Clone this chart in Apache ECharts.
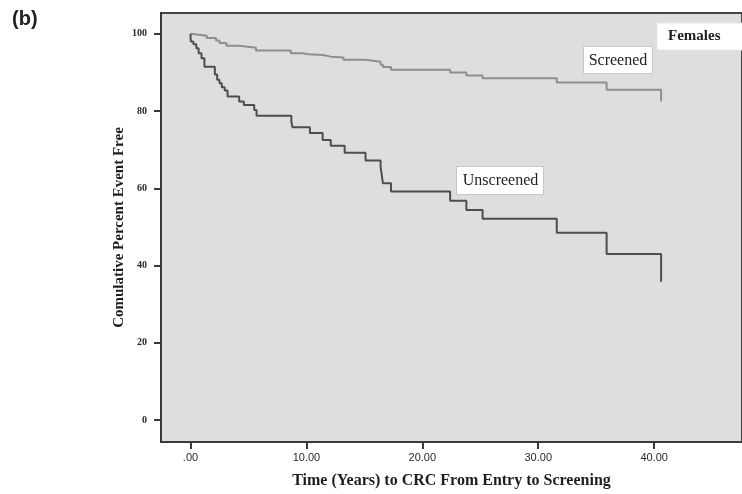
<!DOCTYPE html>
<html>
<head>
<meta charset="utf-8">
<script src="https://cdn.jsdelivr.net/npm/echarts@6/dist/echarts.min.js"></script>
<style>
  html, body { margin: 0; padding: 0; background: #fff; }
  #chartKM { width: 742px; height: 494px; }
</style>
</head>
<body>
<div id="chartKM"></div>
<script>
// Kaplan-Meier style steps, [years, percent event free]
const screened = [
  [0, 100], [0.1, 99.5], [1.4, 98.9], [2.2, 98.3], [2.5, 97.6], [3.1, 96.9],
  [4.2, 96.4], [5.65, 95.7], [8.65, 95.0], [9.65, 94.7], [10.2, 94.5],
  [11.4, 94.1], [12.1, 93.9], [13.2, 93.3], [15.1, 92.8], [16.4, 92.0],
  [16.6, 91.4], [17.3, 90.7], [22.4, 90.0], [23.8, 89.2], [25.2, 88.5],
  [31.6, 87.4], [35.9, 85.5], [40.6, 82.5]
]
const unscreened = [
  [0, 100], [0.02, 98.0], [0.25, 97.3], [0.5, 96.3], [0.7, 95.0], [0.95, 93.7],
  [1.2, 91.5], [2.1, 89.5], [2.3, 88.1], [2.5, 87.2], [2.7, 86.2],
  [2.95, 85.3], [3.2, 83.8], [4.2, 82.5], [4.6, 81.6], [5.5, 80.3],
  [5.7, 78.8], [8.7, 77.3], [8.8, 75.8], [10.3, 74.3], [11.4, 72.5],
  [12.1, 71.0], [13.3, 69.2], [15.1, 67.2], [16.4, 65.5], [16.5, 63.5],
  [16.6, 61.3], [17.3, 59.2], [22.4, 56.8], [23.8, 54.4], [25.2, 52.1],
  [31.6, 48.5], [35.9, 43.0], [40.6, 35.8]
]
const xTicks = [0, 10, 20, 30, 40]
const yTicks = [0, 20, 40, 60, 80, 100]

const serif = '"Liberation Serif", "Times New Roman", serif'
const sans = '"Liberation Sans", Arial, sans-serif'

const myChart = echarts.init(document.getElementById('chartKM'))
const option = {
  animation: false,
  grid: {
    left: 161,
    top: 13,
    right: -4,
    bottom: 52,
    show: true,
    backgroundColor: '#dddee0',
    borderColor: '#444',
    borderWidth: 2
  },
  xAxis: {
    type: 'value',
    min: -2.545,
    max: 47.58,
    name: 'Time (Years) to CRC From Entry to Screening',
    nameLocation: 'middle',
    nameGap: 31,
    nameMoveOverlap: false,
    nameTextStyle: { fontFamily: serif, fontWeight: 'bold', fontSize: 16, color: '#1e1e1e' },
    axisLine: { show: true, onZero: false, lineStyle: { color: '#3a3a3a', width: 2 } },
    axisTick: { show: true, customValues: xTicks, length: 7, lineStyle: { color: '#3a3a3a', width: 2 } },
    axisLabel: {
      customValues: xTicks,
      margin: 10,
      fontFamily: sans,
      fontSize: 11,
      color: '#2a2a2a',
      formatter: v => (v === 0 ? '.00' : v.toFixed(2))
    },
    splitLine: { show: false }
  },
  yAxis: {
    type: 'value',
    min: -5.7,
    max: 105.4,
    name: 'Comulative Percent Event Free',
    nameLocation: 'middle',
    nameGap: 34,
    nameMoveOverlap: false,
    nameTextStyle: { fontFamily: serif, fontWeight: 'bold', fontSize: 15, color: '#1e1e1e' },
    axisLine: { show: true, onZero: false, lineStyle: { color: '#3a3a3a', width: 2 } },
    axisTick: { show: true, customValues: yTicks, length: 7, lineStyle: { color: '#3a3a3a', width: 2 } },
    axisLabel: {
      customValues: yTicks,
      margin: 14,
      fontFamily: serif,
      fontWeight: 'bold',
      fontSize: 10,
      color: '#2a2a2a'
    },
    splitLine: { show: false }
  },
  series: [
    {
      name: 'Screened',
      type: 'line',
      step: 'end',
      data: screened,
      showSymbol: false,
      lineStyle: { color: '#8e8e8e', width: 2 }
    },
    {
      name: 'Unscreened',
      type: 'line',
      step: 'end',
      data: unscreened,
      showSymbol: false,
      lineStyle: { color: '#4d4d4d', width: 2 }
    }
  ],
  graphic: [
    {
      type: 'text', left: 12, top: 9,
      style: { text: '(b)', font: 'bold 20px ' + sans, fill: '#222' }
    },
    {
      type: 'rect', shape: { x: 657, y: 23, width: 95, height: 27 },
      style: { fill: '#fff', stroke: '#e6e6e6', lineWidth: 1 }
    },
    {
      type: 'text', x: 668, y: 36.5,
      style: { text: 'Females', font: 'bold 15px ' + serif, fill: '#222', align: 'left', verticalAlign: 'middle', textAlign: 'left', textVerticalAlign: 'middle' }
    },
    {
      type: 'rect', shape: { x: 583.5, y: 46.5, width: 69, height: 27 },
      style: { fill: '#fff', stroke: '#c6c6c6', lineWidth: 1 }
    },
    {
      type: 'text', x: 618, y: 60.5,
      style: { text: 'Screened', font: '16px ' + serif, fill: '#222', align: 'center', verticalAlign: 'middle', textAlign: 'center', textVerticalAlign: 'middle' }
    },
    {
      type: 'rect', shape: { x: 456.5, y: 166.5, width: 87, height: 28 },
      style: { fill: '#fff', stroke: '#c6c6c6', lineWidth: 1 }
    },
    {
      type: 'text', x: 500.5, y: 180.5,
      style: { text: 'Unscreened', font: '16px ' + serif, fill: '#222', align: 'center', verticalAlign: 'middle', textAlign: 'center', textVerticalAlign: 'middle' }
    }
  ]
}
myChart.setOption(option)
window.addEventListener('resize', () => {
  myChart.resize()
})
</script>
</body>
</html>
